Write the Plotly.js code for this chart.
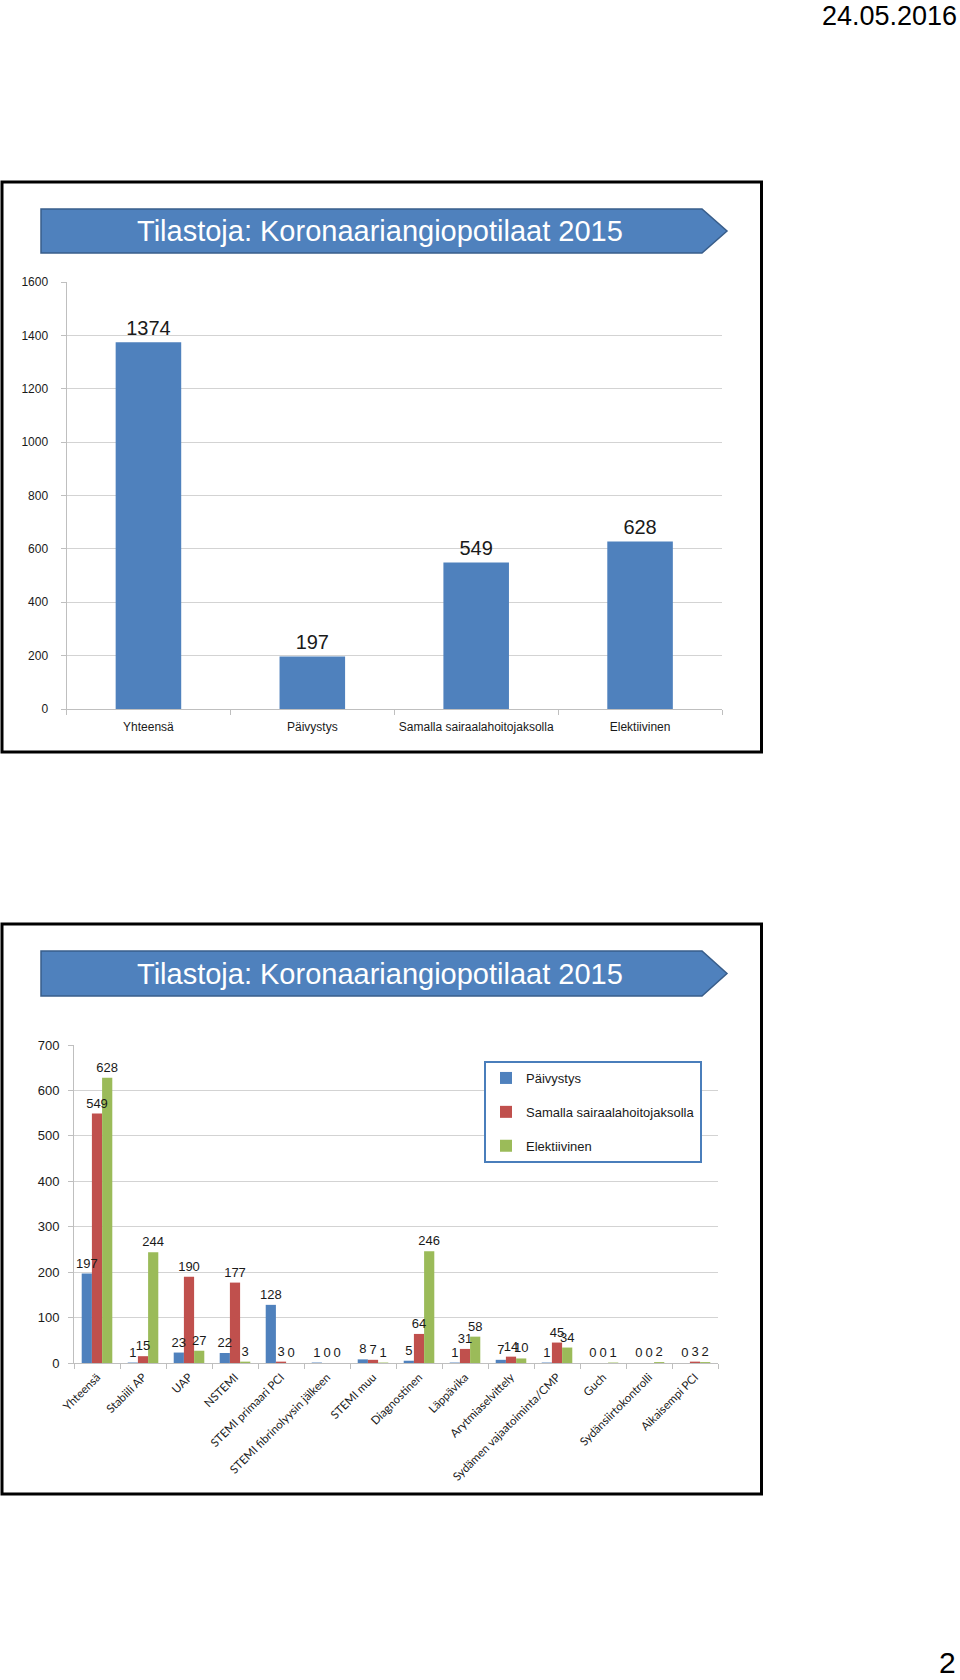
<!DOCTYPE html>
<html><head><meta charset="utf-8">
<script src="https://cdn.plot.ly/plotly-3.0.1.min.js"></script>
<style>html,body{margin:0;padding:0;background:#fff}#chart{width:960px;height:1680px}</style>
</head><body><div id="chart"></div>
<script>
// ---- data ----
const overviewCategories = ['Yhteensä', 'Päivystys', 'Samalla sairaalahoitojaksolla', 'Elektiivinen'];
const overviewValues = [1374, 197, 549, 628];

const detailCategories = ['Yhteensä', 'Stabiili AP', 'UAP', 'NSTEMI', 'STEMI primaari PCI',
  'STEMI fibrinolyysin jälkeen', 'STEMI muu', 'Diagnostinen', 'Läppävika', 'Arytmiaselvittely',
  'Sydämen vajaatoiminta/CMP', 'Guch', 'Sydänsiirtokontrolli', 'Aikaisempi PCI'];
const paivystysValues    = [197, 1, 23, 22, 128, 1, 8, 5, 1, 7, 1, 0, 0, 0];
const samallaValues      = [549, 15, 190, 177, 3, 0, 7, 64, 31, 14, 45, 0, 0, 3];
const elektiivinenValues = [628, 244, 27, 3, 0, 0, 1, 246, 58, 10, 34, 1, 2, 2];
const seriesNames = ['Päivystys', 'Samalla sairaalahoitojaksolla', 'Elektiivinen'];

const chartTitle = 'Tilastoja: Koronaariangiopotilaat 2015';
const dateText = '24.05.2016';
const pageText = '2';

// ---- helpers (pixel -> paper) ----
const W = 960, H = 1680;
const fx = p => p / W;
const fy = p => 1 - p / H;
const pathFrom = pts => 'M' + pts.map(p => fx(p[0]).toFixed(5) + ',' + fy(p[1]).toFixed(5)).join('L') + 'Z';

const ARIAL = 'Liberation Sans, Arial, sans-serif';
const NARROW = 'Liberation Sans Narrow, Arial Narrow, Liberation Sans, Arial, sans-serif';
const CAL = 'Lato, Noto Sans, sans-serif';
const BLUE = '#4F81BD', RED = '#C0504D', GREEN = '#9BBB59';
const GRID = '#D3D3D3', AXIS = '#BFBFBF', TXT = '#1a1a1a';

const traces = [
  {
    type: 'bar', x: overviewCategories, y: overviewValues, xaxis: 'x', yaxis: 'y',
    width: 0.4, marker: {color: BLUE}, text: overviewValues.map(String),
    textposition: 'outside', constraintext: 'none', cliponaxis: false,
    textfont: {family: NARROW, size: 20, color: TXT}, showlegend: false, hoverinfo: 'skip'
  }
];
const detailSeries = [paivystysValues, samallaValues, elektiivinenValues];
const detailColors = [BLUE, RED, GREEN];
// coloured bars
detailSeries.forEach((vals, i) => {
  traces.push({
    type: 'bar', x: detailCategories, y: vals, xaxis: 'x2', yaxis: 'y2', name: seriesNames[i],
    legendgroup: 'g' + i, marker: {color: detailColors[i]}, hoverinfo: 'skip'
  });
});
// data labels drawn on an overlaying axis so they sit above every bar
detailSeries.forEach((vals, i) => {
  traces.push({
    type: 'bar', x: detailCategories, y: vals, xaxis: 'x3', yaxis: 'y2', showlegend: false,
    marker: {color: 'rgba(0,0,0,0)'}, text: vals.map(String),
    textposition: 'outside', constraintext: 'none', cliponaxis: false,
    textfont: {family: ARIAL, size: 13, color: TXT}, hoverinfo: 'skip'
  });
});

function banner(top, bottom) {
  const mid = (top + bottom) / 2;
  return {
    type: 'path', xref: 'paper', yref: 'paper', layer: 'above',
    path: pathFrom([[41, top], [702, top], [727, mid], [702, bottom], [41, bottom]]),
    fillcolor: BLUE, line: {color: '#385D8A', width: 1.5}
  };
}
function frame(x0, y0, x1, y1) {
  return {type: 'rect', xref: 'paper', yref: 'paper', x0: fx(x0), x1: fx(x1), y0: fy(y0), y1: fy(y1),
    line: {color: '#000', width: 3}, fillcolor: 'rgba(0,0,0,0)', layer: 'above'};
}

const layout = {
  width: W, height: H, margin: {l: 0, r: 0, t: 0, b: 0, pad: 0},
  paper_bgcolor: '#fff', plot_bgcolor: 'rgba(0,0,0,0)',
  font: {family: ARIAL, color: TXT},
  barmode: 'group', bargap: 0.335, bargroupgap: 0,
  hovermode: false,
  xaxis: {
    domain: [fx(66.5), fx(722)], anchor: 'y', type: 'category', showgrid: false,
    showline: true, linecolor: AXIS, linewidth: 1, ticks: 'outside', tickson: 'boundaries',
    ticklen: 5, tickcolor: AXIS, tickangle: 0, tickfont: {family: ARIAL, size: 12, color: TXT},
    ticklabelstandoff: 7, automargin: false, fixedrange: true
  },
  yaxis: {
    domain: [fy(709), fy(282)], anchor: 'x', range: [0, 1600], dtick: 200, tick0: 0,
    showgrid: true, gridcolor: GRID, gridwidth: 1, zeroline: false,
    showline: true, linecolor: AXIS, linewidth: 1, ticks: 'outside', ticklen: 5, tickcolor: AXIS,
    tickfont: {family: ARIAL, size: 12, color: TXT}, ticklabelstandoff: 10,
    automargin: false, fixedrange: true
  },
  xaxis2: {
    domain: [fx(74), fx(718)], anchor: 'y2', type: 'category', showgrid: false,
    showline: true, linecolor: AXIS, linewidth: 1, ticks: 'outside', tickson: 'boundaries',
    ticklen: 5, tickcolor: AXIS, tickangle: -45, tickfont: {family: CAL, size: 11.5, color: TXT},
    ticklabelstandoff: 2, automargin: false, fixedrange: true
  },
  xaxis3: {
    domain: [fx(74), fx(718)], anchor: 'y2', overlaying: 'x2', type: 'category',
    visible: false, showgrid: false, fixedrange: true
  },
  yaxis2: {
    domain: [fy(1363), fy(1045)], anchor: 'x2', range: [0, 700], dtick: 100, tick0: 0,
    showgrid: true, gridcolor: GRID, gridwidth: 1, zeroline: false,
    showline: true, linecolor: AXIS, linewidth: 1, ticks: 'outside', ticklen: 5, tickcolor: AXIS,
    tickfont: {family: ARIAL, size: 13, color: TXT}, ticklabelstandoff: 6,
    automargin: false, fixedrange: true
  },
  showlegend: true,
  legend: {
    x: fx(484), y: fy(1061), xanchor: 'left', yanchor: 'top', orientation: 'v',
    bgcolor: '#fff', bordercolor: '#4A7EBB', borderwidth: 2,
    font: {family: ARIAL, size: 13, color: TXT}, tracegroupgap: 14, traceorder: 'grouped'
  },
  shapes: [
    frame(2, 182, 761.5, 752),
    frame(2, 924, 761.5, 1494),
    banner(209, 253),
    banner(951, 996)
  ],
  annotations: [
    {xref: 'paper', yref: 'paper', x: fx(380), y: fy(231), xanchor: 'center', yanchor: 'middle',
      text: chartTitle, showarrow: false, font: {family: ARIAL, size: 29, color: '#fff'}},
    {xref: 'paper', yref: 'paper', x: fx(380), y: fy(974), xanchor: 'center', yanchor: 'middle',
      text: chartTitle, showarrow: false, font: {family: ARIAL, size: 29, color: '#fff'}},
    {xref: 'paper', yref: 'paper', x: fx(958), y: 1, xanchor: 'right', yanchor: 'top', borderpad: 0,
      text: dateText, showarrow: false, font: {family: ARIAL, size: 27, color: '#000'}},
    {xref: 'paper', yref: 'paper', x: fx(958), y: fy(1662), xanchor: 'right', yanchor: 'middle',
      text: pageText, showarrow: false, font: {family: ARIAL, size: 30, color: '#000'}}
  ]
};

Plotly.newPlot('chart', traces, layout, {staticPlot: true, displayModeBar: false});
</script>
</body></html>
